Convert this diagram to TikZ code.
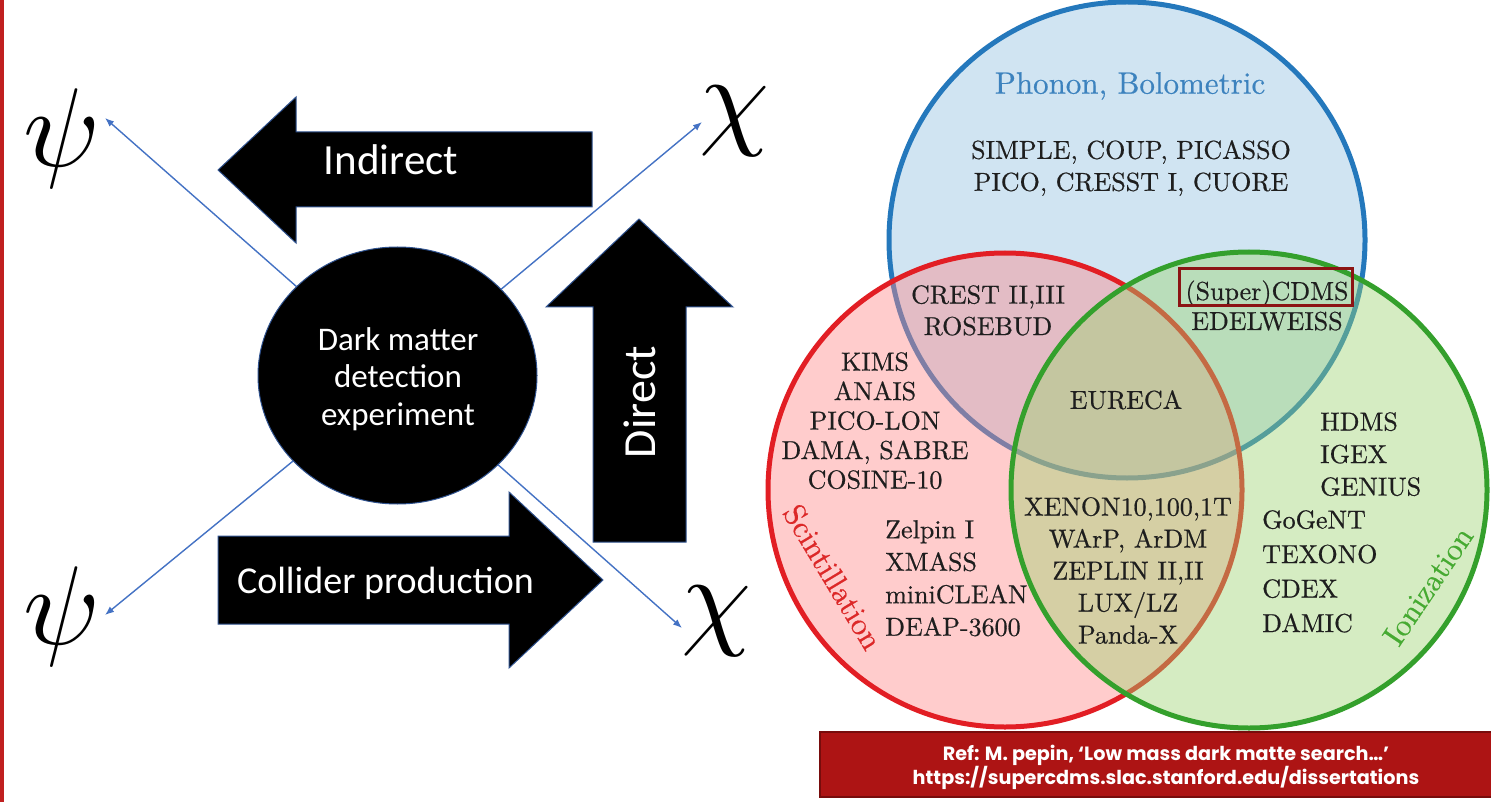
\documentclass[tikz,border=0pt]{standalone}
\usepackage{fontspec}
\newfontfamily\calfont{Carlito}
\newfontfamily\reffont{Poppins}
\newfontfamily\vennfont{lmroman10-regular.otf}[FakeBold=0.5]
\usetikzlibrary{shapes.geometric,arrows.meta}
\definecolor{bfill}{RGB}{208,228,242}
\definecolor{bline}{RGB}{36,120,188}
\definecolor{rfill}{RGB}{255,135,135}
\definecolor{rline}{RGB}{226,30,36}
\definecolor{gfill}{RGB}{155,212,110}
\definecolor{gline}{RGB}{52,160,44}
\definecolor{tblue}{RGB}{60,130,190}
\definecolor{tred}{RGB}{220,40,40}
\definecolor{tgreen}{RGB}{70,170,50}
\definecolor{venntext}{RGB}{30,30,30}
\definecolor{boxred}{RGB}{140,20,20}
\definecolor{refred}{RGB}{173,20,20}
\definecolor{refborder}{RGB}{120,12,12}
\definecolor{arrowblue}{RGB}{68,114,196}
\definecolor{shapeline}{RGB}{47,82,143}
\definecolor{leftred}{RGB}{192,32,32}
\begin{document}
\begin{tikzpicture}[x=1pt,y=-1pt,
  venn/.style={font=\vennfont\fontsize{26}{30}\selectfont, text=venntext, inner sep=0pt, align=center},
  vennlabel/.style={font=\vennfont\fontsize{31}{36}\selectfont, inner sep=0pt},
  blockshape/.style={fill=black, draw=shapeline, line width=1pt},
  arrowtext/.style={text=white, inner sep=0pt},
  greek/.style={inner sep=0pt, scale=11.2},
  conn/.style={draw=arrowblue, line width=1.4pt, -{Latex[length=9pt,width=7pt]}}]
\useasboundingbox (0,0) rectangle (1491,802);
\fill[white] (0,0) rectangle (1491,802);
\fill[leftred] (0,0) rectangle (4,802);

% ---------------- Venn diagram ----------------
\fill[bfill] (1127,240) circle[radius=238];
\draw[bline, line width=5pt] (1127,240) circle[radius=238];
\fill[rfill, fill opacity=0.42] (1005,490) circle[radius=237];
\draw[rline, line width=5pt] (1005,490) circle[radius=237];
\fill[gfill, fill opacity=0.42] (1249,490) circle[radius=238];
\draw[gline, line width=5pt] (1249,490) circle[radius=238];

\node[vennlabel, text=tblue, anchor=north] (phonon) at (1130,72) {Phonon, Bolometric};
\node[venn, font=\vennfont\fontsize{26}{32}\selectfont, anchor=north] (bonly) at (1131,140) {SIMPLE, COUP, PICASSO\\PICO, CRESST I, CUORE};
\node[venn, font=\vennfont\fontsize{26}{31.5}\selectfont, anchor=north] (br) at (988,285) {CREST II,III\\ROSEBUD};
\node[venn, font=\vennfont\fontsize{26}{29.5}\selectfont, anchor=north] (ronly) at (875,352) {KIMS\\ANAIS\\PICO-LON\\DAMA, SABRE\\COSINE-10};
\node[venn, font=\vennfont\fontsize{26}{32.5}\selectfont, anchor=north west, align=left] (ronlyb) at (885,520) {Zelpin I\\XMASS\\miniCLEAN\\DEAP-3600};
\node[venn, anchor=north] (brg) at (1126,390) {EURECA};
\node[venn, font=\vennfont\fontsize{26}{32}\selectfont, anchor=north] (rg) at (1128,497) {XENON10,100,1T\\WArP, ArDM\\ZEPLIN II,II\\LUX/LZ\\Panda-X};
\node[venn, anchor=base] (cdms) at (1267,300) {(Super)CDMS};
\node[venn, anchor=base] (edel) at (1267,330) {EDELWEISS};
\draw[boxred, line width=3pt] (1179,269) rectangle (1352,306);
\node[venn, font=\vennfont\fontsize{26}{32.5}\selectfont, anchor=north west, align=left] (gonly) at (1320,412) {HDMS\\IGEX\\GENIUS};
\node[venn, font=\vennfont\fontsize{26}{34.5}\selectfont, anchor=north west, align=left] (gonlyb) at (1262,510) {GoGeNT\\TEXONO\\CDEX\\DAMIC};
\node[vennlabel, text=tred, rotate=-59] (scint) at (833,577) {Scintillation};
\node[vennlabel, text=tgreen, rotate=56] (ioniz) at (1428,586) {Ionization};

% ---------------- reference box ----------------
\path[fill=refred, draw=refborder, line width=2pt] (820,732) rectangle (1500,797);
\node[text=white, inner sep=0pt, align=center, font=\reffont\bfseries\fontsize{19.2}{23}\selectfont] (reftext) at (1166,767.5) {Ref: M. pepin, ‘Low mass dark matte search…’\\https://supercdms.slac.stanford.edu/dissertations};

% ---------------- left part ----------------
\fill[blockshape] (218,170) -- (296,97) -- (296,132) -- (592,132) -- (592,207) -- (296,207) -- (296,243) -- cycle;
\fill[blockshape] (639,219) -- (733,307) -- (686,307) -- (686,542) -- (593,542) -- (593,307) -- (546,307) -- cycle;
\fill[blockshape] (218,536) -- (509,536) -- (509,492) -- (603,580) -- (509,668) -- (509,624) -- (218,624) -- cycle;
\node[arrowtext, font=\calfont\fontsize{43}{50}\selectfont, anchor=base] (indirect) at (391,175) {Indirect};
\node[arrowtext, font=\calfont\fontsize{46}{52}\selectfont, rotate=90] (direct) at (640,402) {Direct};
\node[arrowtext, font=\calfont\fontsize{38}{44}\selectfont, anchor=base] (collider) at (385.5,593) {Collider production};

\coordinate (t1) at (105,118);
\coordinate (t2) at (702,122);
\coordinate (t3) at (105,615);
\coordinate (t4) at (682,628);
\node[ellipse, fill=black, draw=shapeline, line width=1pt, minimum width=279pt, minimum height=257pt, inner sep=0pt] (dm) at (397.5,375.5) {};
\draw[conn] (dm) -- (t1);
\draw[conn] (dm) -- (t2);
\draw[conn] (dm) -- (t3);
\draw[conn] (dm) -- (t4);
\node[text=white, inner sep=0pt, align=center, font=\calfont\fontsize{33}{37.5}\selectfont] (dmtext) at (398,379) {Dark matter\\detection\\experiment};

\node[greek] (psiA) at (62,139) {$\psi$};
\node[greek] (chiA) at (735,121) {$\chi$};
\node[greek] (psiB) at (62,616) {$\psi$};
\node[greek] (chiB) at (717,621) {$\chi$};
\end{tikzpicture}
\end{document}
